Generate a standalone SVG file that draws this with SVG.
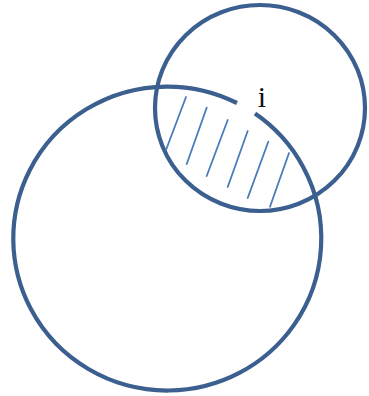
<svg xmlns="http://www.w3.org/2000/svg" width="369" height="396" viewBox="0 0 369 396">
<style>
.c{fill:none;stroke:#3b5f8f;stroke-width:4.2}
.h{stroke:#4a7bbb;stroke-width:1.8;stroke-linecap:round}
.t{font-family:"Liberation Serif","Times New Roman",serif;font-size:30px;fill:#111}
</style>
<rect width="369" height="396" fill="#fff"/>
<g id="big-circle">
<path class="c" d="M 255 113.6 A 154 152 0 1 1 237 103"/>
</g>
<g id="small-circle">
<ellipse class="c" cx="260" cy="108" rx="105" ry="103"/>
</g>
<g id="hatch">
<line class="h" x1="186" y1="97" x2="166" y2="150"/>
<line class="h" x1="206.7" y1="107.7" x2="186.7" y2="164"/>
<line class="h" x1="227.7" y1="120" x2="206.7" y2="176"/>
<line class="h" x1="247.7" y1="131" x2="227.7" y2="187"/>
<line class="h" x1="268.3" y1="141.7" x2="247.7" y2="198"/>
<line class="h" x1="289" y1="153" x2="270" y2="206.7"/>
</g>
<g id="label">
<text class="t" x="262" y="107" text-anchor="middle">i</text>
</g>
</svg>
